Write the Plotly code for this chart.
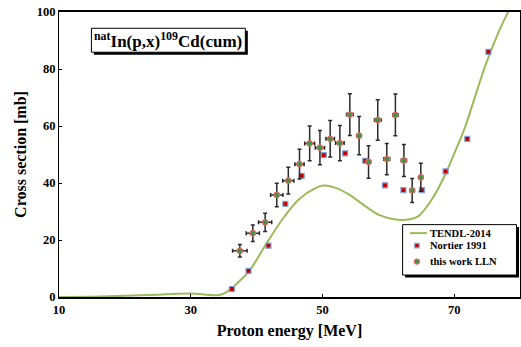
import plotly.graph_objects as go

# TENDL-2014 evaluated excitation function
tendl_energy = [10, 15, 20, 25, 28, 30, 32, 33.5, 34.5, 35.5, 36.3, 37.5, 38.9, 41.4, 43.9,
                46.4, 49.0, 50.2, 52.0, 54.0, 56.5, 58.5, 60.6, 63.1, 64.6, 66.6, 68.65,
                70.7, 71.7, 74.7, 76.7, 78.2, 78.8]
tendl_xs = [0, 0.1, 0.4, 0.8, 1.1, 1.2, 0.9, 0.6, 0.8, 1.8, 3.2, 5.8, 9.1, 18.4, 27.2,
            34.2, 38.3, 39.1, 38.3, 36.0, 31.9, 28.9, 27.4, 27.2, 28.4, 34.2, 43.0,
            54.1, 59.9, 81.0, 92.7, 100.1, 103.0]

# Nortier 1991
nortier_energy = [36.25, 38.77, 41.8, 44.37, 46.85, 50.2, 53.45, 56.5, 59.5, 62.3, 65.1,
                  68.7, 72.0, 75.2]
nortier_xs = [2.8, 9.2, 18.0, 32.7, 42.5, 49.8, 50.4, 47.8, 39.2, 37.5, 37.5, 44.1, 55.5, 86.0]

# this work (LLN)
lln_energy = [37.46, 39.43, 41.3, 43.07, 44.82, 46.52, 48.06, 49.62, 51.18, 52.65, 54.16,
              55.57, 57.0, 58.4, 59.77, 61.08, 62.37, 63.63, 64.94]
lln_energy_err = [1.1, 1.0, 1.0, 0.94, 0.85, 0.7, 0.75, 0.7, 0.65, 0.65, 0.5,
                  0.3, 0.3, 0.5, 0.45, 0.4, 0.4, 0.3, 0.3]
lln_xs = [16.2, 22.4, 26.2, 35.8, 40.8, 46.6, 53.9, 52.4, 55.5, 54.0, 64.0,
          56.6, 47.4, 62.1, 48.4, 63.9, 47.9, 37.4, 42.0]
lln_xs_err = [2.2, 2.9, 3.2, 4.1, 4.7, 5.2, 6.1, 6.0, 6.4, 6.2, 7.3,
              6.7, 5.7, 7.1, 5.5, 7.3, 5.6, 4.2, 4.9]

x_ticks = [10, 30, 50, 70]
y_ticks = [0, 20, 40, 60, 80, 100]

SERIF = "Liberation Serif"

TENDL_COLOR = "#9bbb59"
NORTIER_FILL, NORTIER_EDGE = "#c00000", "#7fa3d6"
LLN_FILL, LLN_EDGE = "#2f9a48", "#e0675c"

fig = go.Figure()

fig.add_trace(go.Scatter(
    x=tendl_energy, y=tendl_xs, mode="lines", name="TENDL-2014",
    line=dict(color=TENDL_COLOR, width=2, shape="spline", smoothing=0.8),
))

fig.add_trace(go.Scatter(
    x=nortier_energy, y=nortier_xs, mode="markers", name="Nortier 1991",
    marker=dict(symbol="square", size=5, color=NORTIER_FILL,
                line=dict(color=NORTIER_EDGE, width=1.2)),
))

fig.add_trace(go.Scatter(
    x=lln_energy, y=lln_xs, mode="markers", name="this work LLN",
    marker=dict(symbol="circle", size=5.5, color=LLN_FILL,
                line=dict(color=LLN_EDGE, width=1.3)),
    error_y=dict(type="data", array=lln_xs_err, color="#2a2a2a", thickness=1.5, width=2),
    error_x=dict(type="data", array=lln_energy_err, color="#2a2a2a", thickness=1.5, width=2),
))

axis_font = dict(family=SERIF, size=12.5, color="black", weight="bold")

fig.update_xaxes(
    range=[10, 80], tickvals=x_ticks, ticktext=[str(v) for v in x_ticks],
    ticks="inside", ticklen=3, tickcolor="black", tickwidth=1,
    showline=True, linecolor="black", linewidth=1.5, mirror=True,
    showgrid=False, zeroline=False, tickfont=axis_font,
    title=dict(text="Proton energy [MeV]", standoff=9,
               font=dict(family=SERIF, size=16, color="black", weight="bold")),
)
fig.update_yaxes(
    range=[0, 100], tickvals=y_ticks, ticktext=[str(v) for v in y_ticks],
    ticks="inside", ticklen=3, tickcolor="black", tickwidth=1,
    showline=True, linecolor="black", linewidth=1.2, mirror=True,
    showgrid=False, zeroline=False, tickfont=axis_font,
    title=dict(text="Cross section [mb]", standoff=6,
               font=dict(family=SERIF, size=16, color="black", weight="bold")),
)


def px_x(p):
    """Horizontal pixel inside the figure -> paper fraction."""
    return (p - 59.3) / 460.7


def px_y(p):
    """Vertical pixel inside the figure -> paper fraction."""
    return (297.5 - p) / 285.5


def boxed(x0, y0, x1, y1, shadow=2.5):
    fig.add_shape(type="rect", xref="paper", yref="paper",
                  x0=px_x(x0 + shadow), x1=px_x(x1 + shadow),
                  y0=px_y(y0 + shadow), y1=px_y(y1 + shadow),
                  fillcolor="black", line=dict(width=0), layer="above")
    fig.add_shape(type="rect", xref="paper", yref="paper",
                  x0=px_x(x0), x1=px_x(x1), y0=px_y(y0), y1=px_y(y1),
                  fillcolor="white", line=dict(color="black", width=1), layer="above")


# reaction label box
boxed(91.7, 28.3, 245.5, 52.3)
fig.add_annotation(
    xref="paper", yref="paper", x=px_x(168.6), y=px_y(40.5),
    xanchor="center", yanchor="middle",
    text="<sup>nat</sup>In(p,x)<sup>109</sup>Cd(cum)", showarrow=False,
    font=dict(family=SERIF, size=17, color="black", weight="bold"),
)

# legend box
boxed(402.7, 225.0, 516.5, 275.5)
legend_names = ["TENDL-2014", "Nortier 1991", "this work LLN"]
legend_rows = [233.5, 246.0, 262.0]
sym_x = 417.0
# TENDL line sample
fig.add_shape(type="line", xref="paper", yref="paper",
              x0=px_x(410), x1=px_x(427), y0=px_y(legend_rows[0]), y1=px_y(legend_rows[0]),
              line=dict(color=TENDL_COLOR, width=2), layer="above")
# Nortier square sample
fig.add_shape(type="rect", xref="paper", yref="paper",
              x0=px_x(sym_x - 2.2), x1=px_x(sym_x + 2.2),
              y0=px_y(legend_rows[1] - 2.2), y1=px_y(legend_rows[1] + 2.2),
              fillcolor=NORTIER_FILL, line=dict(color=NORTIER_EDGE, width=1.2), layer="above")
# LLN marker sample
fig.add_shape(type="circle", xref="paper", yref="paper",
              x0=px_x(sym_x - 2.5), x1=px_x(sym_x + 2.5),
              y0=px_y(legend_rows[2] - 2.5), y1=px_y(legend_rows[2] + 2.5),
              fillcolor=LLN_FILL, line=dict(color=LLN_EDGE, width=1.3), layer="above")
for name, row in zip(legend_names, legend_rows):
    fig.add_annotation(
        xref="paper", yref="paper", x=px_x(428.5), y=px_y(row),
        xanchor="left", yanchor="middle", text=name, showarrow=False,
        font=dict(family=SERIF, size=10.5, color="black", weight="bold"),
    )

fig.update_layout(
    width=521, height=347,
    margin=dict(l=59, r=1, t=12, b=50),
    paper_bgcolor="white", plot_bgcolor="white",
    showlegend=False,
)

fig.write_html("out.html")
